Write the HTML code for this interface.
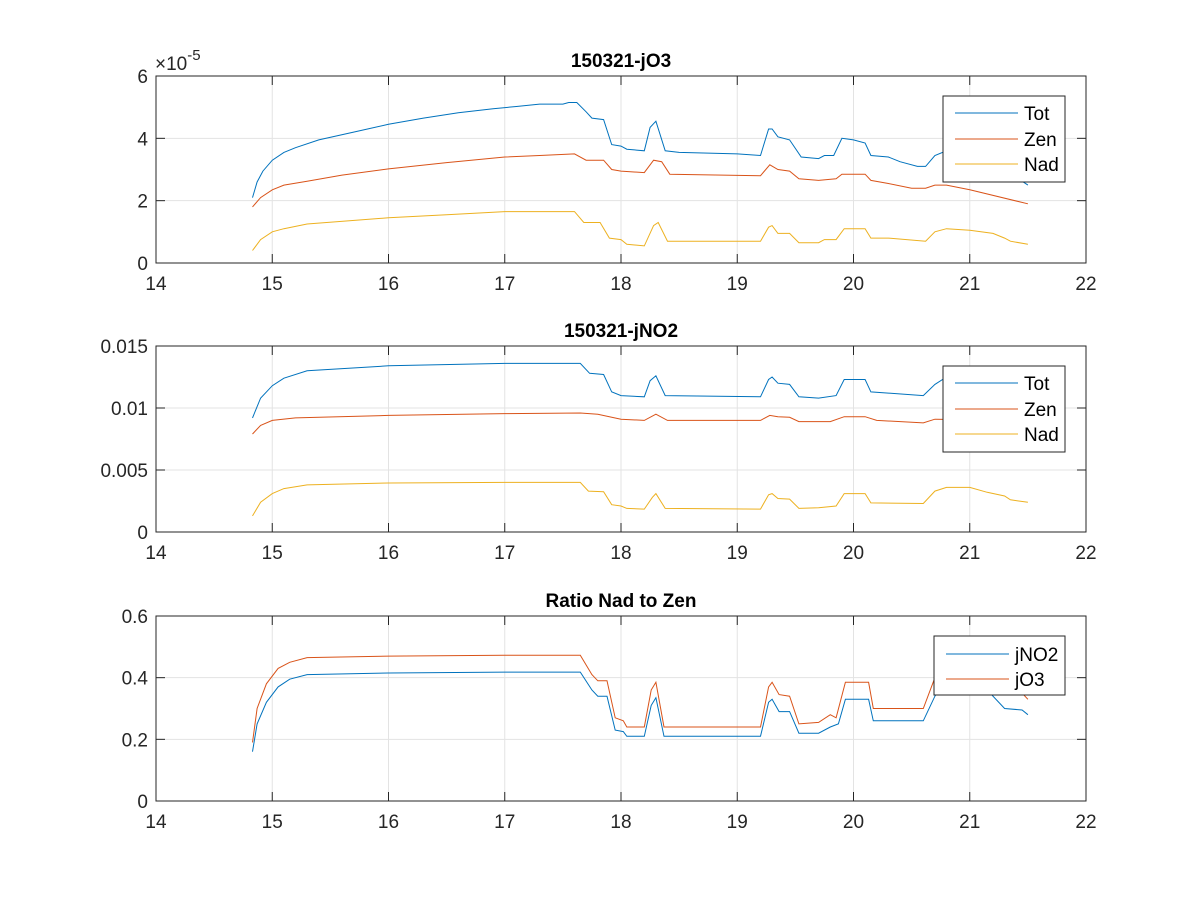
<!DOCTYPE html>
<html><head><meta charset="utf-8"><style>
body{margin:0;background:#fff}
svg{display:block;font-family:"Liberation Sans",Arial,sans-serif}
</style></head><body>
<svg id="s" width="1200" height="900" xmlns="http://www.w3.org/2000/svg"></svg>
<script>
const S=document.getElementById('s');let h='';
const X0=156,X1=1086;const px=t=>X0+(t-14)*(X1-X0)/8;
const B='#0072BD',O='#D95319',Y='#EDB120';
function axes(top,bot,yt,ymax,ylabels,title){
 const py=v=>bot-v/ymax*(bot-top);
 for(let t=15;t<=21;t++)h+=`<line x1="${px(t)}" x2="${px(t)}" y1="${top}" y2="${bot}" stroke="#e3e3e3"/>`;
 yt.forEach(v=>{if(v>0&&v<ymax)h+=`<line x1="${X0}" x2="${X1}" y1="${py(v)}" y2="${py(v)}" stroke="#e3e3e3"/>`;});
 h+=`<rect x="${X0}" y="${top}" width="${X1-X0}" height="${bot-top}" fill="none" stroke="#262626"/>`;
 for(let t=14;t<=22;t++){h+=`<line x1="${px(t)}" x2="${px(t)}" y1="${bot}" y2="${bot-9}" stroke="#262626"/><line x1="${px(t)}" x2="${px(t)}" y1="${top}" y2="${top+9}" stroke="#262626"/>`;
 h+=`<text x="${px(t)}" y="${bot+27}" font-size="19" text-anchor="middle" fill="#262626">${t}</text>`;}
 yt.forEach((v,i)=>{const y=py(v);h+=`<line x1="${X0}" x2="${X0+9}" y1="${y}" y2="${y}" stroke="#262626"/><line x1="${X1}" x2="${X1-9}" y1="${y}" y2="${y}" stroke="#262626"/>`;
 h+=`<text x="${X0-8}" y="${y+7}" font-size="19" text-anchor="end" fill="#262626">${ylabels[i]}</text>`;});
 h+=`<text x="621" y="${top-9}" font-size="19" font-weight="bold" text-anchor="middle" fill="#000">${title}</text>`;
 return py;}
function line(py,d,c){let p=[];for(let i=0;i<d.length;i+=2)p.push(px(d[i]).toFixed(1)+','+py(d[i+1]).toFixed(1));h+=`<polyline points="${p.join(' ')}" fill="none" stroke="${c}" stroke-width="1"/>`;}
function legend(x,y,w,hh,items,ys){h+=`<rect x="${x}" y="${y}" width="${w}" height="${hh}" fill="#fff" stroke="#262626"/>`;
 items.forEach((it,i)=>{h+=`<line x1="${x+12}" x2="${x+75}" y1="${ys[i]}" y2="${ys[i]}" stroke="${it[1]}"/><text x="${x+81}" y="${ys[i]+7}" font-size="19" fill="#000">${it[0]}</text>`;});}
// plot1
let p1=axes(76,263,[0,2,4,6],6,['0','2','4','6'],'150321-jO3');
h+=`<text x="155" y="70" font-size="19" fill="#262626">×10<tspan dy="-10" font-size="15">-5</tspan></text>`;
line(p1,[14.83,2.1,14.87,2.6,14.92,2.95,15.0,3.3,15.1,3.55,15.2,3.7,15.4,3.95,15.7,4.2,16,4.45,16.3,4.65,16.6,4.82,16.9,4.95,17.1,5.02,17.3,5.1,17.5,5.1,17.55,5.15,17.62,5.15,17.7,4.85,17.75,4.65,17.85,4.6,17.92,3.8,18.0,3.75,18.05,3.65,18.2,3.6,18.25,4.35,18.3,4.55,18.38,3.6,18.5,3.55,19.0,3.5,19.2,3.45,19.27,4.3,19.3,4.3,19.35,4.05,19.45,3.95,19.55,3.4,19.7,3.35,19.75,3.45,19.83,3.45,19.9,4.0,20.0,3.95,20.1,3.85,20.15,3.45,20.3,3.4,20.4,3.25,20.55,3.1,20.62,3.1,20.7,3.45,20.8,3.6,21.0,3.5,21.3,3.0,21.5,2.5],B);
line(p1,[14.83,1.8,14.9,2.1,15,2.35,15.1,2.5,15.3,2.62,15.6,2.82,16,3.02,16.5,3.22,17,3.4,17.3,3.45,17.6,3.5,17.7,3.3,17.85,3.3,17.92,3.0,18,2.95,18.2,2.9,18.28,3.3,18.35,3.25,18.42,2.85,19.2,2.8,19.28,3.15,19.35,3.0,19.45,2.95,19.53,2.7,19.7,2.65,19.85,2.7,19.9,2.85,20.1,2.85,20.15,2.65,20.3,2.55,20.5,2.4,20.62,2.4,20.7,2.5,20.8,2.5,21,2.35,21.5,1.9],O);
line(p1,[14.83,0.4,14.9,0.75,15,1.0,15.1,1.1,15.3,1.25,16,1.45,16.5,1.55,17,1.65,17.6,1.65,17.68,1.3,17.82,1.3,17.9,0.8,18,0.75,18.05,0.6,18.2,0.55,18.28,1.2,18.32,1.3,18.4,0.7,19.2,0.7,19.27,1.15,19.3,1.2,19.35,0.95,19.45,0.95,19.53,0.65,19.7,0.65,19.75,0.75,19.85,0.75,19.92,1.1,20.1,1.1,20.15,0.8,20.3,0.8,20.62,0.7,20.7,1.0,20.8,1.1,21,1.05,21.2,0.95,21.3,0.8,21.35,0.7,21.5,0.6],Y);
legend(943,96,122,86,[['Tot',B],['Zen',O],['Nad',Y]],[113,139,164]);
// plot2
let p2=axes(346,532,[0,5,10,15],15,['0','0.005','0.01','0.015'],'150321-jNO2');
line(p2,[14.83,9.2,14.9,10.8,15,11.8,15.1,12.4,15.3,13.0,16,13.4,17,13.6,17.65,13.6,17.73,12.8,17.85,12.7,17.92,11.3,18,11.0,18.2,10.9,18.25,12.2,18.3,12.6,18.38,11.0,19.2,10.9,19.27,12.3,19.3,12.5,19.35,12.0,19.45,11.9,19.53,10.9,19.7,10.8,19.85,11.0,19.92,12.3,20.1,12.3,20.15,11.3,20.3,11.2,20.6,11.0,20.7,11.9,20.8,12.5,21.4,12,21.5,11.5],B);
line(p2,[14.83,7.9,14.9,8.6,15,9.0,15.2,9.2,16,9.4,17,9.55,17.65,9.6,17.8,9.5,17.9,9.3,18,9.1,18.2,9.0,18.3,9.5,18.4,9.0,19.2,9.0,19.28,9.4,19.35,9.3,19.45,9.25,19.53,8.9,19.8,8.9,19.92,9.3,20.1,9.3,20.2,9.0,20.6,8.8,20.7,9.1,21.5,9.0],O);
line(p2,[14.83,1.3,14.9,2.4,15,3.1,15.1,3.5,15.3,3.8,16,3.95,17,4.0,17.65,4.0,17.72,3.3,17.85,3.25,17.92,2.2,18,2.1,18.05,1.9,18.2,1.85,18.27,2.8,18.3,3.1,18.38,1.9,19.2,1.85,19.27,3.0,19.3,3.1,19.35,2.7,19.45,2.65,19.53,1.9,19.7,1.95,19.85,2.1,19.92,3.1,20.1,3.1,20.15,2.35,20.6,2.3,20.7,3.3,20.8,3.6,21.0,3.6,21.15,3.2,21.3,2.9,21.35,2.6,21.5,2.4],Y);
legend(943,366,122,86,[['Tot',B],['Zen',O],['Nad',Y]],[383,409,434]);
// plot3
let p3=axes(616,801,[0,0.2,0.4,0.6],0.6,['0','0.2','0.4','0.6'],'Ratio Nad to Zen');
line(p3,[14.83,0.16,14.87,0.25,14.95,0.32,15.05,0.37,15.15,0.395,15.3,0.41,16,0.415,17,0.418,17.65,0.418,17.75,0.36,17.8,0.34,17.88,0.34,17.95,0.23,18.02,0.225,18.05,0.21,18.2,0.21,18.26,0.31,18.3,0.335,18.37,0.21,19.2,0.21,19.27,0.32,19.3,0.33,19.36,0.29,19.45,0.29,19.53,0.22,19.7,0.22,19.8,0.24,19.87,0.25,19.93,0.33,20.13,0.33,20.17,0.26,20.6,0.26,20.7,0.34,20.8,0.4,21.0,0.42,21.3,0.3,21.45,0.295,21.5,0.28],B);
line(p3,[14.83,0.19,14.87,0.3,14.95,0.38,15.05,0.43,15.15,0.45,15.3,0.465,16,0.47,17,0.473,17.65,0.473,17.75,0.41,17.8,0.39,17.88,0.39,17.95,0.27,18.02,0.26,18.05,0.24,18.2,0.24,18.26,0.36,18.3,0.385,18.37,0.24,19.2,0.24,19.27,0.37,19.3,0.385,19.36,0.345,19.45,0.34,19.53,0.25,19.7,0.255,19.8,0.28,19.85,0.27,19.93,0.385,20.13,0.385,20.17,0.30,20.6,0.30,20.7,0.40,20.8,0.44,21.0,0.45,21.3,0.36,21.45,0.35,21.5,0.33],O);
legend(934,636,131,59,[['jNO2',B],['jO3',O]],[654,679]);
S.innerHTML=h;
</script>
</body></html>
